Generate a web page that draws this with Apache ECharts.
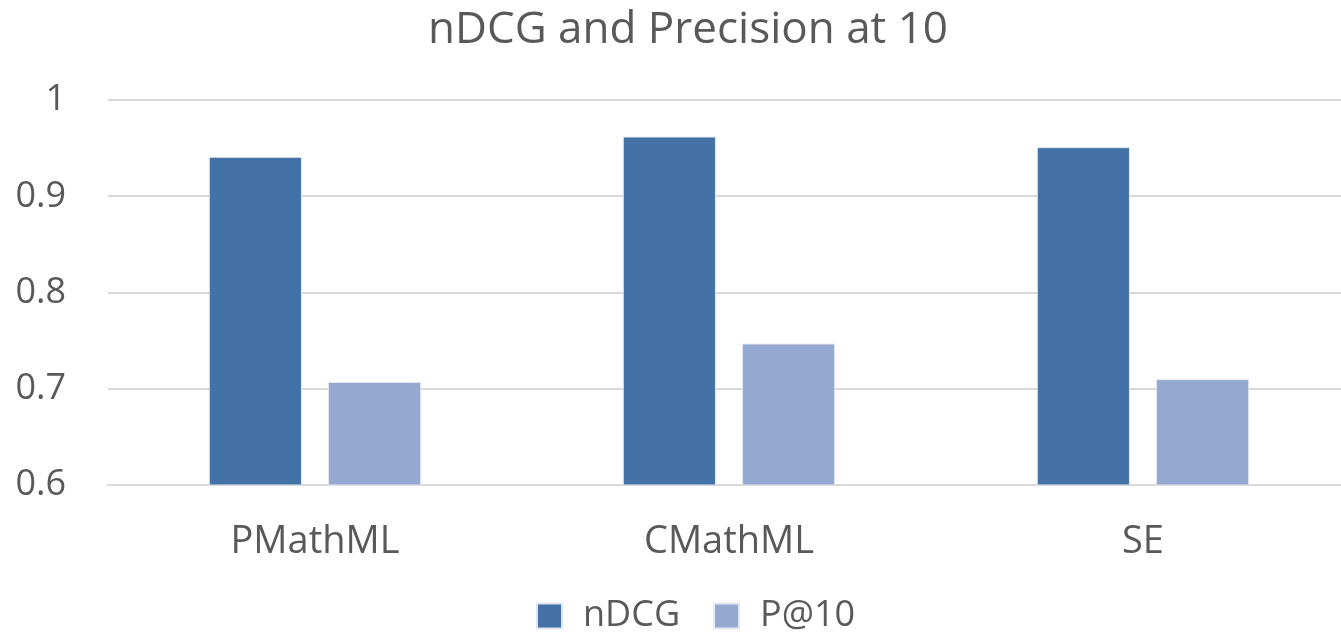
<!DOCTYPE html>
<html><head><meta charset="utf-8">
<script src="https://cdn.jsdelivr.net/npm/echarts@6/dist/echarts.min.js"></script>
<style>html,body{margin:0;padding:0;background:#fff}#c{width:1341px;height:633px}</style>
</head><body><div id="c"></div>
<script>
const categories = ['PMathML', 'CMathML', 'SE'];
const ndcg = [0.941, 0.962, 0.951];
const p10 = [0.707, 0.747, 0.710];
const yTicks = [0.6, 0.7, 0.8, 0.9, 1];
const font = '"Open Sans", "Liberation Sans", sans-serif';
const chart = echarts.init(document.getElementById('c'));
chart.setOption({
  animation: false,
  textStyle: {fontFamily: font},
  title: {text: 'nDCG and Precision at 10', left: 423, top: 3,
    textStyle: {fontFamily: font, fontSize: 44, fontWeight: 'normal', color: '#595959'}},
  legend: {bottom: -6, left: 531, itemWidth: 25, itemHeight: 25, itemGap: 33, icon: 'rect',
    textStyle: {fontFamily: font, fontSize: 36, color: '#595959', padding: [0, 0, 0, 16]},
    data: ['nDCG', 'P@10']},
  grid: {left: 108, width: 1242, top: 100, bottom: 148, outerBoundsMode: 'none', containLabel: false},
  xAxis: {type: 'category', data: categories,
    axisLine: {lineStyle: {color: '#d9d9d9', width: 2}}, axisTick: {show: false},
    axisLabel: {fontFamily: font, fontSize: 38, color: '#595959', margin: 38}},
  yAxis: {type: 'value', min: 0.6, max: 1, interval: 0.1,
    axisLine: {show: false}, axisTick: {show: false},
    splitLine: {lineStyle: {color: '#d9d9d9', width: 2}},
    axisLabel: {fontFamily: font, fontSize: 36, color: '#595959', margin: 42,
      formatter: v => { const t = yTicks.find(x => Math.abs(x - v) < 1e-6); return t === undefined ? '' : String(t); }}},
  series: [
    {name: 'nDCG', type: 'bar', data: ndcg, barWidth: '22.5%', barGap: '28%',
      itemStyle: {color: '#4472a6', borderColor: '#dfe6f0', borderWidth: 1}},
    {name: 'P@10', type: 'bar', data: p10, barWidth: '22.5%',
      itemStyle: {color: '#95a9d0', borderColor: '#e3e8f2', borderWidth: 1}}
  ]
});
</script></body></html>
